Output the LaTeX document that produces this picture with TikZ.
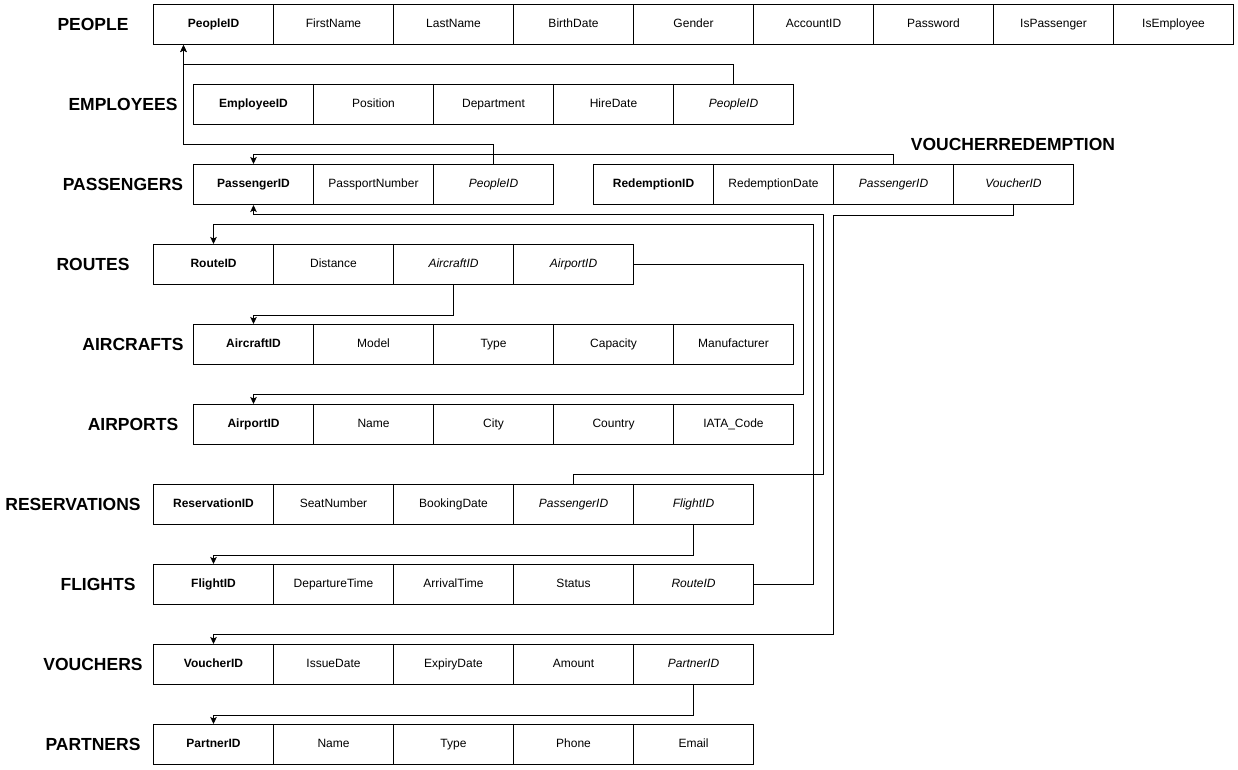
\documentclass[tikz,border=0pt]{standalone}
\usepackage{fontspec}
\setmainfont{Liberation Sans}
\usetikzlibrary{arrows.meta}
\tikzset{
  cell/.style={draw=black, line width=1pt, minimum width=120pt, minimum height=40pt, inner sep=0pt, text height=8.6pt, text depth=2.6pt, anchor=north west, font=\fontsize{12}{14}\selectfont},
  tlabel/.style={font=\fontsize{17.5}{20}\selectfont\bfseries, inner sep=0pt},
  fkline/.style={draw=black, line width=1pt, -{Stealth[length=7pt,width=6.5pt,inset=1.5pt]}},
}
\newcommand\pkf[1]{\textbf{#1}}
\newcommand\fkf[1]{\textit{#1}}
\newcommand\tabrow[4]{%
  \foreach \f [count=\i] in {#4} {\node[cell] (#1-\i) at ({#2+(\i-1)*120},#3) {\f};}}
\begin{document}
\begin{tikzpicture}[x=1pt,y=-1pt]
\fill[white] (0,0) rectangle (1238,769);
\useasboundingbox (0,0) rectangle (1238,769);

\node[tlabel] (l-people) at (93,24) {PEOPLE};
\tabrow{people}{153}{4}{\pkf{PeopleID},FirstName,LastName,BirthDate,Gender,AccountID,Password,IsPassenger,IsEmployee}

\node[tlabel] (l-emp) at (123,104) {EMPLOYEES};
\tabrow{emp}{193}{84}{\pkf{EmployeeID},Position,Department,HireDate,\fkf{PeopleID}}

\node[tlabel] (l-pas) at (123,184) {PASSENGERS};
\tabrow{pas}{193}{164}{\pkf{PassengerID},PassportNumber,\fkf{PeopleID}}

\node[tlabel] (l-vr) at (1013,144) {VOUCHERREDEMPTION};
\tabrow{vr}{593}{164}{\pkf{RedemptionID},RedemptionDate,\fkf{PassengerID},\fkf{VoucherID}}

\node[tlabel] (l-rt) at (93,264) {ROUTES};
\tabrow{rt}{153}{244}{\pkf{RouteID},Distance,\fkf{AircraftID},\fkf{AirportID}}

\node[tlabel] (l-ac) at (133,344) {AIRCRAFTS};
\tabrow{ac}{193}{324}{\pkf{AircraftID},Model,Type,Capacity,Manufacturer}

\node[tlabel] (l-ap) at (133,424) {AIRPORTS};
\tabrow{ap}{193}{404}{\pkf{AirportID},Name,City,Country,IATA\_Code}

\node[tlabel] (l-res) at (73,504) {RESERVATIONS};
\tabrow{res}{153}{484}{\pkf{ReservationID},SeatNumber,BookingDate,\fkf{PassengerID},\fkf{FlightID}}

\node[tlabel] (l-fl) at (98,584) {FLIGHTS};
\tabrow{fl}{153}{564}{\pkf{FlightID},DepartureTime,ArrivalTime,Status,\fkf{RouteID}}

\node[tlabel] (l-vo) at (93,664) {VOUCHERS};
\tabrow{vo}{153}{644}{\pkf{VoucherID},IssueDate,ExpiryDate,Amount,\fkf{PartnerID}}

\node[tlabel] (l-pa) at (93,744) {PARTNERS};
\tabrow{pa}{153}{724}{\pkf{PartnerID},Name,Type,Phone,Email}

% connectors
\draw[fkline] (emp-5.north) -- ++(0,-20) -| ([xshift=-30pt]people-1.south);
\draw[fkline] (pas-3.north) -- ++(0,-20) -| ([xshift=-30pt]people-1.south);
\draw[fkline] (vr-3.north) -- ++(0,-10) -| (pas-1.north);
\draw[fkline] (res-4.north) -- ++(0,-10) -| (823,214) -| (pas-1.south);
\draw[fkline] (fl-5.east) -| (813,224) -| (rt-1.north);
\draw[fkline] (vr-4.south) -- ++(0,10) -| (833,634) -| (vo-1.north);
\draw[fkline] (rt-3.south) -- ++(0,30) -| (ac-1.north);
\draw[fkline] (rt-4.east) -| (803,394) -| (ap-1.north);
\draw[fkline] (res-5.south) -- ++(0,30) -| (fl-1.north);
\draw[fkline] (vo-5.south) -- ++(0,30) -| (pa-1.north);
\end{tikzpicture}
\end{document}
